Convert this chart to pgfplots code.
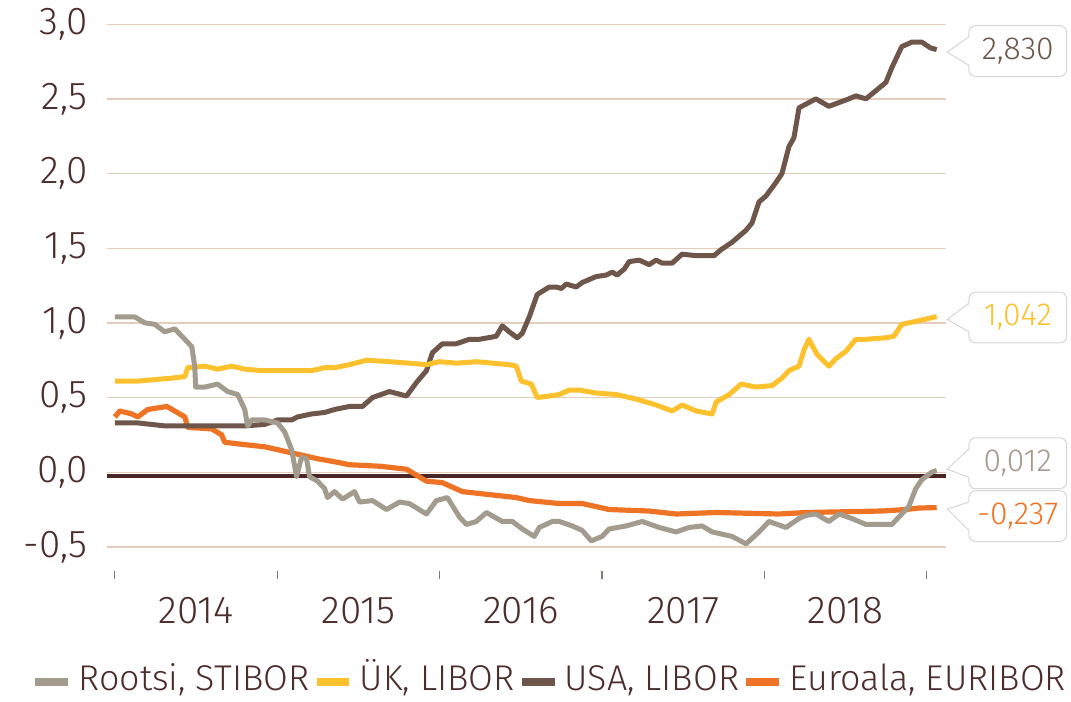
\documentclass[border=0pt]{standalone}
\usepackage{fontspec}
\setmainfont{Fira Sans Light}
\usepackage{pgfplots}
\pgfplotsset{compat=1.18}
\definecolor{stib}{HTML}{A39B8D}
\definecolor{uk}{HTML}{FDC12E}
\definecolor{usa}{HTML}{6F564A}
\definecolor{eur}{HTML}{EE7324}
\definecolor{txt}{HTML}{4D2C2C}
\definecolor{gridc}{HTML}{E6CDBB}
\definecolor{zeroc}{HTML}{4A2626}
\definecolor{callc}{HTML}{D6D6D6}
\definecolor{tickc}{HTML}{8A7A74}
\newcommand\valbox[5]{%
  \node[rectangle, draw=callc, line width=1bp, fill=white, rounded corners=7bp,
    minimum width=98bp, minimum height=51bp, inner sep=0pt, text=#1,
    font=\fontsize{32}{36}\selectfont] (#5) at (axis cs:2019.56,#2) {#3};
  \fill[white] ([xshift=2bp,yshift=14bp]#5.west) -- ([xshift=-21bp,yshift=#4]#5.west)
    -- ([xshift=2bp,yshift=-14bp]#5.west) -- cycle;
  \draw[callc, line width=1bp] ([yshift=14bp]#5.west) -- ([xshift=-21bp,yshift=#4]#5.west)
    -- ([yshift=-14bp]#5.west);}
\begin{document}
\begin{tikzpicture}
\begin{axis}[
 scale only axis, width=841bp, height=556bp,
 xmin=2013.95, xmax=2019.12, ymin=-0.717, ymax=3.0,
 axis line style={draw=none},
 xtick={2014.5,2015.5,2016.5,2017.5,2018.5},
 xticklabels={2014,2015,2016,2017,2018},
 minor xtick={2014,2015,2016,2017,2018,2019},
 xtick pos=bottom, ytick pos=left,
 major tick length=0pt, minor tick length=8bp,
 minor tick style={line width=1.2bp, color=tickc},
 ytick={-0.5,0,0.5,1,1.5,2,2.5,3},
 yticklabels={{-0,5},{0,0},{0,5},{1,0},{1,5},{2,0},{2,5},{3,0}},
 ymajorgrids, grid style={line width=1.3bp, color=gridc},
 tick label style={font=\fontsize{39}{44}\selectfont, text=txt},
 yticklabel style={inner sep=0pt, xshift=-19bp},
 xticklabel style={inner sep=0pt, yshift=-18bp},
 clip=false,
 legend columns=4,
 legend style={at={(axis cs:2016.69,-1.404)}, anchor=center, draw=none, fill=none,
   font=\fontsize{36}{40}\selectfont, text=txt,
   nodes={text height=25bp, text depth=7bp},
   /tikz/every even column/.style={column sep=5bp},
   /tikz/every odd column/.style={column sep=9bp}},
 legend image code/.code={\fill (0bp,-3.5bp) rectangle (32bp,3.5bp);}
]
\addlegendimage{color=stib}\addlegendentry{Rootsi, STIBOR}
\addlegendimage{color=uk}\addlegendentry{ÜK, LIBOR}
\addlegendimage{color=usa}\addlegendentry{USA, LIBOR}
\addlegendimage{color=eur}\addlegendentry{Euroala, EURIBOR}

\addplot[zeroc, line width=4bp, forget plot] coordinates {(2013.95,-0.025) (2019.12,-0.025)};

% Euroala, EURIBOR
\addplot[eur, line width=5.2bp, line join=round, forget plot] coordinates {
(2014.000,0.37) (2014.031,0.41) (2014.105,0.39) (2014.141,0.37) (2014.203,0.42) (2014.320,0.44)
(2014.369,0.41) (2014.431,0.37) (2014.449,0.30) (2014.597,0.29) (2014.658,0.25) (2014.677,0.20)
(2014.757,0.19) (2014.923,0.17) (2015.046,0.14) (2015.168,0.11) (2015.248,0.09) (2015.353,0.07)
(2015.445,0.05) (2015.630,0.04) (2015.796,0.02) (2015.919,-0.06) (2016.017,-0.07) (2016.140,-0.13)
(2016.306,-0.15) (2016.472,-0.17) (2016.552,-0.19) (2016.737,-0.21) (2016.878,-0.21) (2017.044,-0.25)
(2017.290,-0.26) (2017.456,-0.28) (2017.703,-0.27) (2018.090,-0.28) (2018.256,-0.27) (2018.723,-0.26)
(2018.871,-0.25) (2018.951,-0.24) (2019.061,-0.237)};

% USA, LIBOR
\addplot[usa, line width=5bp, line join=round, forget plot] coordinates {
(2014.000,0.33) (2014.141,0.33) (2014.308,0.31) (2014.554,0.31) (2014.800,0.31) (2014.923,0.32)
(2015.002,0.35) (2015.089,0.35) (2015.125,0.37) (2015.212,0.39) (2015.292,0.40) (2015.353,0.42)
(2015.445,0.44) (2015.525,0.44) (2015.587,0.50) (2015.691,0.54) (2015.796,0.51) (2015.857,0.60)
(2015.919,0.68) (2015.956,0.80) (2016.017,0.86) (2016.103,0.86) (2016.183,0.89) (2016.245,0.89)
(2016.349,0.91) (2016.386,0.98) (2016.429,0.94) (2016.478,0.90) (2016.509,0.93) (2016.552,1.04)
(2016.601,1.19) (2016.675,1.24) (2016.718,1.24) (2016.749,1.23) (2016.780,1.26) (2016.841,1.24)
(2016.878,1.27) (2016.964,1.31) (2017.026,1.32) (2017.063,1.34) (2017.093,1.32) (2017.137,1.36)
(2017.167,1.41) (2017.229,1.42) (2017.290,1.39) (2017.333,1.42) (2017.370,1.40) (2017.432,1.40)
(2017.493,1.46) (2017.579,1.45) (2017.690,1.45) (2017.733,1.49) (2017.801,1.54) (2017.887,1.62)
(2017.924,1.67) (2017.967,1.81) (2018.010,1.85) (2018.071,1.94) (2018.108,2.00) (2018.151,2.18)
(2018.182,2.24) (2018.213,2.44) (2018.317,2.50) (2018.397,2.45) (2018.520,2.50) (2018.563,2.52)
(2018.625,2.50) (2018.748,2.61) (2018.785,2.71) (2018.846,2.85) (2018.908,2.88) (2018.969,2.88)
(2019.025,2.84) (2019.061,2.83)};

% UK, LIBOR
\addplot[uk, line width=5bp, line join=round, forget plot] coordinates {
(2014.000,0.61) (2014.141,0.61) (2014.351,0.63) (2014.431,0.64) (2014.449,0.70) (2014.554,0.71)
(2014.633,0.69) (2014.720,0.71) (2014.800,0.69) (2014.904,0.68) (2015.064,0.68) (2015.212,0.68)
(2015.292,0.70) (2015.353,0.70) (2015.445,0.72) (2015.550,0.75) (2015.691,0.74) (2015.814,0.73)
(2015.919,0.72) (2015.999,0.74) (2016.103,0.73) (2016.226,0.74) (2016.325,0.73) (2016.429,0.72)
(2016.472,0.71) (2016.503,0.61) (2016.565,0.59) (2016.601,0.50) (2016.675,0.51) (2016.737,0.52)
(2016.798,0.55) (2016.860,0.55) (2016.964,0.53) (2017.087,0.52) (2017.210,0.49) (2017.333,0.45)
(2017.432,0.41) (2017.493,0.45) (2017.579,0.41) (2017.678,0.39) (2017.703,0.47) (2017.783,0.52)
(2017.856,0.59) (2017.948,0.57) (2018.047,0.58) (2018.108,0.63) (2018.151,0.68) (2018.213,0.71)
(2018.244,0.82) (2018.274,0.89) (2018.323,0.79) (2018.397,0.71) (2018.440,0.76) (2018.502,0.81)
(2018.563,0.89) (2018.625,0.89) (2018.748,0.90) (2018.797,0.91) (2018.846,0.99) (2018.932,1.01)
(2019.061,1.042)};

% Rootsi, STIBOR
\addplot[stib, line width=5bp, line join=round, forget plot] coordinates {
(2014.000,1.04) (2014.123,1.04) (2014.185,1.00) (2014.246,0.99) (2014.308,0.94) (2014.369,0.96)
(2014.431,0.89) (2014.474,0.84) (2014.492,0.71) (2014.498,0.57) (2014.554,0.57) (2014.633,0.59)
(2014.695,0.54) (2014.757,0.52) (2014.800,0.42) (2014.818,0.31) (2014.843,0.35) (2014.923,0.35)
(2015.002,0.33) (2015.046,0.27) (2015.089,0.15) (2015.119,-0.03) (2015.150,0.10) (2015.181,0.09)
(2015.199,-0.03) (2015.248,-0.06) (2015.292,-0.11) (2015.310,-0.17) (2015.353,-0.13) (2015.402,-0.18)
(2015.476,-0.13) (2015.507,-0.20) (2015.587,-0.19) (2015.673,-0.25) (2015.753,-0.20) (2015.814,-0.21)
(2015.919,-0.28) (2015.980,-0.19) (2016.048,-0.17) (2016.122,-0.30) (2016.165,-0.35) (2016.226,-0.33)
(2016.288,-0.27) (2016.386,-0.33) (2016.448,-0.33) (2016.509,-0.38) (2016.583,-0.43) (2016.614,-0.37)
(2016.694,-0.33) (2016.737,-0.33) (2016.817,-0.36) (2016.878,-0.39) (2016.934,-0.46) (2017.001,-0.43)
(2017.044,-0.38) (2017.149,-0.36) (2017.247,-0.33) (2017.352,-0.37) (2017.456,-0.40) (2017.536,-0.37)
(2017.616,-0.36) (2017.678,-0.40) (2017.801,-0.43) (2017.887,-0.48) (2017.967,-0.40) (2018.028,-0.33)
(2018.133,-0.37) (2018.213,-0.31) (2018.256,-0.29) (2018.317,-0.28) (2018.397,-0.33) (2018.459,-0.28)
(2018.539,-0.31) (2018.625,-0.35) (2018.705,-0.35) (2018.785,-0.35) (2018.828,-0.30) (2018.889,-0.23)
(2018.932,-0.11) (2018.969,-0.05) (2019.031,0.00) (2019.061,0.012)};

\valbox{usa}{2.82}{2,830}{-1bp}{b1}
\valbox{uk}{1.036}{1,042}{-2bp}{b2}
\valbox{stib}{0.06}{0,012}{-6bp}{b3}
\valbox{eur}{-0.294}{-0,237}{7bp}{b4}

\path (axis cs:2013.293,3.162) rectangle (axis cs:2019.879,-1.524);
\end{axis}
\end{tikzpicture}
\end{document}
